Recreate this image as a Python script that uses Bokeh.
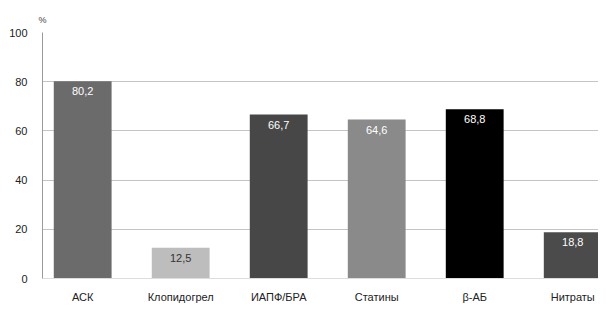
from bokeh.plotting import figure
from bokeh.models import ColumnDataSource, FixedTicker, Range1d, Title
from bokeh.embed import file_html
from bokeh.resources import INLINE
from bokeh.core.properties import value

categories = ["АСК", "Клопидогрел", "ИАПФ/БРА", "Статины", "β-АБ", "Нитраты"]
values = [80.2, 12.5, 66.7, 64.6, 68.8, 18.8]
labels = ["80,2", "12,5", "66,7", "64,6", "68,8", "18,8"]
colors = ["#6b6b6b", "#bdbdbd", "#474747", "#8a8a8a", "#000000", "#4b4b4b"]
label_colors = ["white", "#333333", "white", "white", "white", "white"]
y_ticks = [0, 20, 40, 60, 80, 100]

xs = list(range(len(categories)))
src = ColumnDataSource(dict(x=xs, top=values, color=colors, label=labels,
                            ly=[v - 4.1 for v in values], lc=label_colors))

FONT = "Liberation Sans"

p = figure(width=598, height=315, output_backend="svg", toolbar_location=None,
           x_range=Range1d(-0.41, 5.263), y_range=Range1d(0, 100),
           min_border_left=42, min_border_right=0, min_border_top=32, min_border_bottom=37)
p.outline_line_color = None
p.background_fill_color = "white"

p.vbar(x="x", top="top", bottom=0, width=0.59, fill_color="color", line_color=None, source=src)
p.text(x="x", y="ly", text="label", text_color="lc", text_align="center", text_baseline="middle",
       text_font=value(FONT), text_font_size="11px", source=src)

p.xgrid.grid_line_color = None
p.ygrid.ticker = FixedTicker(ticks=y_ticks)
p.ygrid.grid_line_color = "#c4c4c4"
p.ygrid.grid_line_width = 1

p.yaxis.ticker = FixedTicker(ticks=y_ticks)
p.yaxis.axis_line_color = "#9a9a9a"
p.yaxis.major_tick_line_color = None
p.yaxis.minor_tick_line_color = None
p.yaxis.major_label_standoff = 9
p.yaxis.major_label_text_font = FONT
p.yaxis.major_label_text_font_size = "11px"
p.yaxis.major_label_text_color = "#222222"

p.xaxis.ticker = FixedTicker(ticks=xs)
p.xaxis.major_label_overrides = {i: c for i, c in enumerate(categories)}
p.xaxis.axis_line_color = "#dddddd"
p.xaxis.major_tick_line_color = None
p.xaxis.minor_tick_line_color = None
p.xaxis.major_label_standoff = 6
p.xaxis.major_label_text_font = FONT
p.xaxis.major_label_text_font_size = "11px"
p.xaxis.major_label_text_color = "#222222"

p.add_layout(Title(text="%", align="left", offset=-4, standoff=15,
                   text_font=FONT, text_font_size="9px", text_font_style="normal",
                   text_color="#444444"), "above")

open("out.html", "w").write(file_html(p, INLINE))
